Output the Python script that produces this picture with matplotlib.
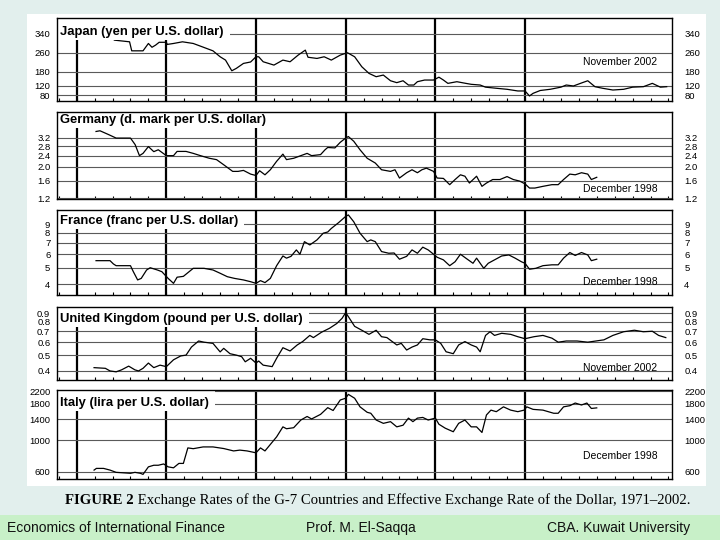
import matplotlib
matplotlib.use("Agg")
import matplotlib.pyplot as plt
from matplotlib.patches import Rectangle
import numpy as np

# ---------------- data ----------------
japan_years = [1971.0, 1971.5, 1971.86, 1972.1, 1972.95, 1973.07, 1973.7, 1974.0, 1974.2, 1974.4, 1974.6, 1975.0,
               1975.05, 1975.4, 1975.9, 1976.5, 1977.0, 1977.6, 1978.0, 1978.3, 1978.65, 1978.9, 1979.3, 1979.7,
               1980.0, 1980.15, 1980.4, 1981.0, 1981.5, 1981.9, 1982.35, 1982.75, 1982.9, 1983.4, 1983.8, 1984.2,
               1984.7, 1985.1, 1985.5, 1985.9, 1986.3, 1986.7, 1987.1, 1987.5, 1987.85, 1988.2, 1988.5, 1988.8,
               1989.0, 1989.4, 1989.9, 1990.2, 1990.45, 1990.7, 1991.2, 1991.7, 1992.0, 1992.5, 1992.8, 1993.45,
               1994.0, 1994.6, 1995.0, 1995.25, 1995.45, 1995.85, 1996.4, 1997.0, 1997.3, 1997.7, 1998.2, 1998.5,
               1998.9, 1999.35, 1999.9, 2000.5, 2001.0, 2001.6, 2002.1, 2002.55, 2002.9]
japan_values = [358, 345, 334, 313, 306, 268, 268, 299, 283, 292, 304, 304,
                295, 299, 306, 299, 285, 268, 243, 229, 184, 194, 215, 221,
                243, 243, 222, 208, 229, 222, 250, 271, 241, 236, 243, 229,
                250, 260, 243, 201, 173, 159, 166, 142, 134, 142, 124, 124,
                138, 145, 145, 157, 145, 131, 138, 131, 127, 124, 115, 110,
                106, 99, 99, 78, 89, 101, 106, 115, 124, 120, 134, 142,
                117, 110, 103, 106, 115, 117, 131, 115, 117]

germany_years = [1971.08, 1971.3, 1971.77, 1972.2, 1973.0, 1973.26, 1973.5, 1973.7, 1974.0, 1974.3, 1974.55, 1975.0,
                 1975.4, 1975.6, 1976.1, 1976.5, 1976.9, 1977.4, 1977.8, 1978.2, 1978.7, 1979.0, 1979.3, 1979.7,
                 1980.0, 1980.2, 1980.5, 1980.8, 1981.15, 1981.5, 1981.7, 1982.1, 1982.5, 1982.85, 1983.1, 1983.6,
                 1983.85, 1984.0, 1984.4, 1984.7, 1985.0, 1985.15, 1985.45, 1985.8, 1986.2, 1986.65, 1987.0, 1987.5,
                 1987.75, 1988.0, 1988.4, 1988.7, 1989.0, 1989.25, 1989.5, 1989.9, 1990.1, 1990.45, 1990.8, 1991.1,
                 1991.4, 1991.65, 1991.9, 1992.3, 1992.6, 1992.85, 1993.2, 1993.6, 1994.0, 1994.35, 1994.7, 1995.0,
                 1995.25, 1995.55, 1996.0, 1996.5, 1996.85, 1997.15, 1997.5, 1997.8, 1998.15, 1998.5, 1998.7, 1999.0]
germany_values = [3.55, 3.59, 3.38, 3.19, 3.19, 2.87, 2.40, 2.49, 2.78, 2.56, 2.64, 2.40,
                  2.40, 2.57, 2.57, 2.49, 2.40, 2.30, 2.25, 2.07, 1.86, 1.86, 1.89, 1.78,
                  1.74, 1.88, 1.76, 1.91, 2.19, 2.46, 2.25, 2.30, 2.40, 2.49, 2.40, 2.44,
                  2.64, 2.74, 2.72, 2.98, 3.19, 3.27, 3.03, 2.64, 2.30, 2.13, 1.91, 1.86,
                  1.91, 1.67, 1.82, 1.91, 1.82, 1.91, 1.96, 1.86, 1.67, 1.66, 1.50, 1.63,
                  1.76, 1.72, 1.54, 1.72, 1.46, 1.54, 1.63, 1.63, 1.71, 1.63, 1.59, 1.52,
                  1.42, 1.42, 1.46, 1.50, 1.50, 1.63, 1.78, 1.76, 1.82, 1.78, 1.63, 1.69]

france_years = [1971.08, 1971.86, 1972.05, 1972.2, 1973.0, 1973.16, 1973.4, 1973.6, 1973.9, 1974.1, 1974.5, 1974.75,
                1975.1, 1975.4, 1975.6, 1975.95, 1976.5, 1977.1, 1977.6, 1978.0, 1978.4, 1978.8, 1979.3, 1979.7,
                1980.0, 1980.25, 1980.5, 1980.8, 1981.15, 1981.5, 1981.7, 1981.95, 1982.25, 1982.45, 1982.7, 1983.0,
                1983.4, 1983.75, 1984.0, 1984.2, 1984.6, 1985.0, 1985.15, 1985.45, 1985.8, 1986.2, 1986.4, 1986.65,
                1987.0, 1987.4, 1987.7, 1988.0, 1988.4, 1988.7, 1989.0, 1989.3, 1989.6, 1989.9, 1990.1, 1990.45,
                1990.8, 1991.1, 1991.4, 1991.7, 1992.1, 1992.3, 1992.7, 1992.95, 1993.3, 1993.7, 1994.1, 1994.45,
                1994.8, 1995.0, 1995.25, 1995.6, 1996.0, 1996.5, 1996.85, 1997.15, 1997.5, 1997.8, 1998.15, 1998.5,
                1998.7, 1999.0]
france_values = [5.50, 5.50, 5.26, 5.14, 5.14, 4.74, 4.24, 4.33, 4.85, 5.00, 4.85, 4.74,
                 4.33, 4.05, 4.40, 4.45, 4.96, 4.96, 4.85, 4.64, 4.43, 4.33, 4.24, 4.14,
                 4.05, 4.20, 4.09, 4.33, 5.14, 5.86, 5.69, 5.83, 6.36, 6.00, 7.11, 6.80,
                 7.28, 7.97, 8.10, 8.50, 9.18, 10.0, 10.2, 9.30, 7.97, 7.11, 7.28, 7.11,
                 6.22, 6.08, 6.10, 5.61, 5.83, 6.36, 6.08, 6.60, 6.36, 6.00, 5.76, 5.56,
                 5.14, 5.42, 6.00, 5.69, 5.31, 5.69, 4.96, 5.31, 5.56, 5.86, 5.94, 5.69,
                 5.42, 5.31, 4.90, 4.96, 5.14, 5.20, 5.20, 5.69, 6.14, 5.90, 6.14, 5.94,
                 5.50, 5.61]

uk_years = [1970.97, 1971.6, 1971.86, 1972.2, 1972.5, 1972.9, 1973.25, 1973.45, 1973.7, 1974.0, 1974.3, 1974.65,
            1975.0, 1975.4, 1975.8, 1976.1, 1976.4, 1976.8, 1977.1, 1977.6, 1978.0, 1978.2, 1978.55, 1978.9,
            1979.2, 1979.4, 1979.7, 1980.0, 1980.15, 1980.4, 1980.9, 1981.15, 1981.5, 1981.9, 1982.3, 1982.6,
            1983.0, 1983.2, 1983.65, 1984.1, 1984.5, 1984.8, 1985.0, 1985.15, 1985.5, 1985.9, 1986.3, 1986.7,
            1987.0, 1987.3, 1987.85, 1988.1, 1988.4, 1988.7, 1989.0, 1989.3, 1989.7, 1990.0, 1990.3, 1990.6,
            1991.0, 1991.3, 1991.65, 1992.0, 1992.3, 1992.5, 1992.8, 1993.05, 1993.3, 1993.7, 1994.2, 1994.6,
            1995.0, 1995.5, 1996.0, 1996.5, 1996.85, 1997.3, 1997.9, 1998.5, 1999.4, 1999.9, 2000.5, 2001.1,
            2001.6, 2002.1, 2002.45, 2002.85]
uk_values = [0.419, 0.415, 0.400, 0.395, 0.406, 0.428, 0.406, 0.400, 0.415, 0.447, 0.419, 0.434,
             0.425, 0.468, 0.494, 0.500, 0.560, 0.610, 0.600, 0.590, 0.523, 0.550, 0.510, 0.500,
             0.489, 0.455, 0.478, 0.447, 0.460, 0.434, 0.425, 0.478, 0.555, 0.530, 0.577, 0.605,
             0.660, 0.640, 0.690, 0.730, 0.780, 0.840, 0.910, 0.860, 0.750, 0.710, 0.670, 0.710,
             0.648, 0.640, 0.577, 0.590, 0.537, 0.560, 0.577, 0.630, 0.620, 0.620, 0.590, 0.524,
             0.510, 0.577, 0.605, 0.577, 0.560, 0.524, 0.660, 0.695, 0.660, 0.680, 0.670, 0.648,
             0.630, 0.648, 0.660, 0.635, 0.600, 0.610, 0.610, 0.600, 0.620, 0.660, 0.695, 0.710,
             0.695, 0.700, 0.660, 0.640]

italy_years = [1970.97, 1971.1, 1971.5, 1971.86, 1972.2, 1973.0, 1973.25, 1973.55, 1973.7, 1974.0, 1974.3, 1974.55,
               1974.85, 1975.1, 1975.4, 1975.7, 1975.95, 1976.2, 1976.5, 1977.05, 1977.6, 1978.2, 1978.75, 1979.1,
               1979.5, 1980.0, 1980.25, 1980.5, 1981.15, 1981.5, 1981.7, 1982.1, 1982.5, 1982.85, 1983.1, 1983.6,
               1984.0, 1984.3, 1984.7, 1985.0, 1985.15, 1985.5, 1985.8, 1986.2, 1986.4, 1986.7, 1987.1, 1987.5,
               1987.85, 1988.2, 1988.5, 1988.75, 1989.0, 1989.3, 1989.6, 1990.0, 1990.2, 1990.55, 1991.0, 1991.3,
               1991.65, 1992.0, 1992.3, 1992.6, 1992.85, 1993.1, 1993.4, 1993.8, 1994.2, 1994.6, 1994.95, 1995.1,
               1995.45, 1996.0, 1996.6, 1996.85, 1997.15, 1997.5, 1997.8, 1998.15, 1998.45, 1998.7, 1999.0]
italy_values = [616, 633, 633, 616, 594, 585, 594, 585, 575, 649, 666, 666,
                680, 649, 639, 686, 686, 881, 870, 895, 895, 872, 839, 850,
                839, 814, 881, 839, 1053, 1237, 1200, 1220, 1381, 1462, 1405, 1513,
                1686, 1610, 1908, 1962, 2089, 1962, 1708, 1564, 1540, 1381, 1309, 1345,
                1237, 1270, 1424, 1345, 1424, 1440, 1381, 1424, 1290, 1211, 1143, 1309,
                1381, 1237, 1237, 1130, 1498, 1620, 1580, 1708, 1620, 1580, 1620, 1708,
                1640, 1620, 1540, 1540, 1708, 1740, 1816, 1760, 1816, 1664, 1680]

japan_ticks = [340, 260, 180, 120, 80]
germany_ticks = [3.2, 2.8, 2.4, 2.0, 1.6, 1.2]
france_ticks = [9, 8, 7, 6, 5, 4]
uk_ticks = [0.9, 0.8, 0.7, 0.6, 0.5, 0.4]
italy_ticks = [2200, 1800, 1400, 1000, 600]

panel_titles = ["Japan (yen per U.S. dollar)", "Germany (d. mark per U.S. dollar)",
                "France (franc per U.S. dollar)", "United Kingdom (pound per U.S. dollar)",
                "Italy (lira per U.S. dollar)"]
end_notes = ["November 2002", "December 1998", "December 1998", "November 2002", "December 1998"]
divider_years = [1970, 1975, 1980, 1985, 1990, 1995]

caption_bold = "FIGURE 2"
caption_rest = " Exchange Rates of the G-7 Countries and Effective Exchange Rate of the Dollar, 1971\u20132002."
footer_texts = ["Economics of International Finance", "Prof. M. El-Saqqa", "CBA. Kuwait University"]

# ---------------- layout ----------------
W, H = 720, 540
SANS = "Liberation Sans"
SERIF = "Liberation Serif"

panels = [
    dict(x=japan_years, y=japan_values, ticks=japan_ticks, scale="linear", ylim=(58, 405),
         top=18.3, bottom=100.7, ty=0.837, ny=0.473),
    dict(x=germany_years, y=germany_values, ticks=germany_ticks, scale="log", ylim=(1.199, 4.89),
         top=111.7, bottom=198.5, ty=0.905, ny=0.112),
    dict(x=france_years, y=france_values, ticks=france_ticks, scale="log", ylim=(3.46, 10.9),
         top=210.0, bottom=295.0, ty=0.874, ny=0.156),
    dict(x=uk_years, y=uk_values, ticks=uk_ticks, scale="log", ylim=(0.352, 0.981),
         top=307.3, bottom=380.0, ty=0.839, ny=0.17),
    dict(x=italy_years, y=italy_values, ticks=italy_ticks, scale="log", ylim=(531, 2241),
         top=390.0, bottom=479.3, ty=0.851, ny=0.264),
]

left_px, right_px = 57.3, 671.7
xlim = (1968.92, 2003.18)
TICK_FS = 6.8


def fmt(t):
    return f"{t:.1f}" if isinstance(t, float) else str(t)


fig = plt.figure(figsize=(W / 100, H / 100), dpi=100)
fig.patch.set_facecolor("#e2efed")
fig.add_artist(Rectangle((27 / W, 1 - 486 / H), (706 - 27) / W, (486 - 14) / H,
                         transform=fig.transFigure, fc="white", ec="none", zorder=0))
fig.add_artist(Rectangle((0, 0), 1, 25 / H, transform=fig.transFigure,
                         fc="#c8f0c8", ec="none", zorder=0))

axes = []
titles = []
for i, p in enumerate(panels):
    ax = fig.add_axes([left_px / W, 1 - p["bottom"] / H, (right_px - left_px) / W, (p["bottom"] - p["top"]) / H])
    ax.set_facecolor("white")
    ax.set_yscale(p["scale"])
    ax.set_xlim(*xlim)
    ax.set_ylim(*p["ylim"])
    ax.plot(p["x"], p["y"], color="black", lw=0.9, zorder=2)
    for yr in divider_years:
        ax.axvline(yr, color="black", lw=1.6, zorder=1.5)
    ax.set_yticks(p["ticks"])
    ax.set_yticklabels([fmt(t) for t in p["ticks"]])
    ax.yaxis.set_minor_locator(matplotlib.ticker.NullLocator())
    ax.yaxis.set_minor_formatter(matplotlib.ticker.NullFormatter())
    ax.grid(axis="y", color="#5a5a5a", lw=0.8)
    ax.tick_params(axis="y", length=0, pad=5, labelsize=TICK_FS)
    for lab in ax.get_yticklabels():
        lab.set_fontfamily(SANS)
    ax.set_xticks(np.arange(1969, 2004))
    ax.tick_params(axis="x", direction="in", length=2.5, width=0.8, labelbottom=False)
    for s in ax.spines.values():
        s.set_linewidth(1.0)
        s.set_zorder(5)

    ax2 = ax.twinx()
    ax2.set_yscale(p["scale"])
    ax2.set_ylim(*p["ylim"])
    ax2.set_yticks(p["ticks"])
    ax2.set_yticklabels([fmt(t) for t in p["ticks"]])
    ax2.yaxis.set_minor_locator(matplotlib.ticker.NullLocator())
    ax2.yaxis.set_minor_formatter(matplotlib.ticker.NullFormatter())
    ax2.tick_params(axis="y", length=0, pad=9, labelsize=TICK_FS)
    for lab in ax2.get_yticklabels():
        lab.set_fontfamily(SANS)
    for s in ax2.spines.values():
        s.set_visible(False)

    t = ax.text(0.0045, p["ty"], panel_titles[i], transform=ax.transAxes, ha="left", va="center",
                fontsize=9.4, fontweight="bold", fontfamily=SANS, zorder=6)
    titles.append(t)
    ax.text(0.916, p["ny"], end_notes[i], transform=ax.transAxes, ha="center", va="center",
            fontsize=7.5, fontfamily=SANS, zorder=6)
    axes.append(ax)

# caption
cap_y = 1 - 500 / H
cap1 = fig.text(0, cap_y, caption_bold, fontsize=10.6, fontweight="bold", fontfamily=SERIF, va="center")
cap2 = fig.text(0, cap_y, caption_rest, fontsize=10.6, fontfamily=SERIF, va="center")

for txt, xpx, ha in zip(footer_texts, [7, 361, 690], ["left", "center", "right"]):
    fig.text(xpx / W, 1 - 528 / H, txt, fontsize=10, fontfamily=SANS, ha=ha, va="center", color="#111111")

fig.canvas.draw()
r = fig.canvas.get_renderer()

# white boxes behind panel titles
for ax, t in zip(axes, titles):
    bb = t.get_window_extent(renderer=r)
    inv = ax.transAxes.inverted()
    (x0, y0), (x1, y1) = inv.transform([(bb.x0, bb.y0 - 2), (bb.x1 + 6, bb.y1)])
    ax.add_patch(Rectangle((0, y0), x1, 1 - y0, transform=ax.transAxes, fc="white", ec="none",
                           zorder=3, clip_on=False))

w1 = cap1.get_window_extent(renderer=r).width
w2 = cap2.get_window_extent(renderer=r).width
cx = 377.5
start = cx - (w1 + w2) / 2
cap1.set_x(start / W)
cap2.set_x((start + w1) / W)

fig.savefig("out.png", dpi=100, facecolor=fig.get_facecolor())
